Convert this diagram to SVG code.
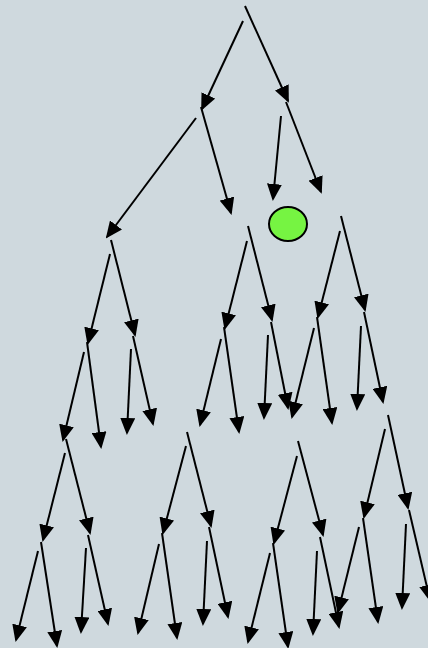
<svg xmlns="http://www.w3.org/2000/svg" width="428" height="648" viewBox="0 0 428 648">
<style>
.c line{stroke:#000;stroke-width:2;fill:none;marker-end:url(#ah)}
.n{fill:#76f442;stroke:#000;stroke-width:2}
</style>
<defs>
<marker id="ah" markerUnits="userSpaceOnUse" viewBox="0 0 17 15" refX="15" refY="7.5" markerWidth="17" markerHeight="15" orient="auto">
<path d="M0,0 L17,7.5 L0,15 z" fill="#000"/>
</marker>
</defs>
<rect width="428" height="648" fill="#cfd9de"/>
<g id="node-green"><ellipse class="n" cx="288" cy="224" rx="19" ry="17"/></g>
<g id="connectors" class="c">
<line x1="245" y1="6" x2="288" y2="101"/>
<line x1="243" y1="21" x2="202" y2="109"/>
<line x1="196" y1="118" x2="107" y2="237"/>
<line x1="201" y1="107" x2="231" y2="213"/>
<line x1="281" y1="116" x2="273" y2="199"/>
<line x1="286" y1="102" x2="321" y2="192"/>
<line x1="110" y1="254" x2="88" y2="343"/>
<line x1="111" y1="240" x2="135" y2="335"/>
<line x1="247" y1="241" x2="225" y2="328"/>
<line x1="248" y1="226" x2="272" y2="320"/>
<line x1="340" y1="231" x2="318" y2="317"/>
<line x1="341" y1="216" x2="365" y2="310"/>
<line x1="84" y1="352" x2="63" y2="440"/>
<line x1="87" y1="342" x2="101" y2="447"/>
<line x1="131" y1="349" x2="127" y2="433"/>
<line x1="133" y1="336" x2="153" y2="424"/>
<line x1="221" y1="339" x2="200" y2="425"/>
<line x1="224" y1="327" x2="239" y2="432"/>
<line x1="268" y1="335" x2="264" y2="418"/>
<line x1="271" y1="322" x2="288" y2="408"/>
<line x1="314" y1="328" x2="292" y2="417"/>
<line x1="317" y1="317" x2="332" y2="423"/>
<line x1="361" y1="326" x2="357" y2="409"/>
<line x1="364" y1="312" x2="383" y2="402"/>
<line x1="65" y1="453" x2="43" y2="540"/>
<line x1="66" y1="439" x2="90" y2="533"/>
<line x1="186" y1="446" x2="163" y2="533"/>
<line x1="187" y1="432" x2="211" y2="526"/>
<line x1="297" y1="456" x2="274" y2="543"/>
<line x1="298" y1="441" x2="323" y2="535"/>
<line x1="385" y1="429" x2="364" y2="517"/>
<line x1="388" y1="415" x2="408" y2="508"/>
<line x1="38" y1="551" x2="16" y2="640"/>
<line x1="41" y1="542" x2="57" y2="646"/>
<line x1="86" y1="548" x2="81" y2="632"/>
<line x1="88" y1="535" x2="108" y2="624"/>
<line x1="159" y1="544" x2="138" y2="633"/>
<line x1="162" y1="533" x2="177" y2="638"/>
<line x1="207" y1="541" x2="203" y2="624"/>
<line x1="209" y1="527" x2="228" y2="617"/>
<line x1="270" y1="553" x2="248" y2="642"/>
<line x1="273" y1="543" x2="288" y2="647"/>
<line x1="317" y1="551" x2="313" y2="634"/>
<line x1="320" y1="537" x2="339" y2="627"/>
<line x1="359" y1="527" x2="338" y2="612"/>
<line x1="363" y1="518" x2="378" y2="622"/>
<line x1="406" y1="524" x2="402" y2="608"/>
<line x1="409" y1="510" x2="430" y2="600"/>
</g>
</svg>
